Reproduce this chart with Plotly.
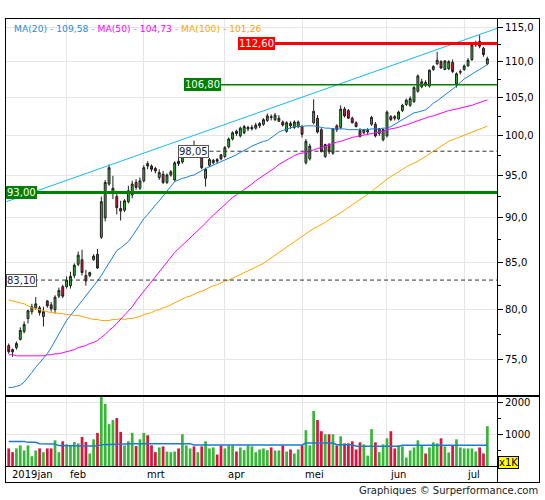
import numpy as np
import pandas as pd
import plotly.graph_objects as go

# trading days on the chart (Euronext calendar)
holidays = ["2019-04-19", "2019-04-22", "2019-05-01"]
days = pd.bdate_range("2019-01-11", "2019-07-09", freq="C", holidays=holidays)
dates = [d.strftime("%Y-%m-%d") for d in days]
day_pos = list(range(len(dates)))  # one slot per trading day

months_nl = ["jan", "feb", "mrt", "apr", "mei", "jun", "jul", "aug", "sep", "okt", "nov", "dec"]

opens = [76.4, 76.0, 76.2, 77.0, 77.8, 79.1, 79.8, 80.2, 80.2, 79.3,
         80.9, 80.5, 80.0, 81.4, 82.4, 82.4, 82.5, 83.6, 84.8, 85.3,
         83.6, 83.6, 85.3, 85.9, 87.8, 90.0, 94.0, 93.1, 92.5, 91.1,
         90.9, 91.9, 92.7, 94.2, 93.5, 94.4, 96.5, 96.2, 95.9, 94.8,
         95.2, 94.2, 95.1, 94.5, 96.8, 96.7, 97.4, 98.0, 98.5, 97.6,
         97.3, 94.7, 96.3, 96.6, 97.0, 97.6, 97.4, 98.6, 99.6, 100.6,
         100.0, 100.4, 100.9, 100.9, 101.0, 101.3, 101.5, 102.0, 102.5, 102.1,
         101.9, 101.8, 100.6, 101.6, 101.1, 101.2, 101.2, 96.6, 97.1, 101.7,
         102.3, 100.8, 97.4, 98.9, 97.8, 101.3, 101.1, 103.5, 103.3, 102.3,
         101.7, 100.7, 100.4, 100.5, 101.5, 101.5, 100.3, 99.5, 100.0, 102.5,
         102.5, 102.2, 103.3, 104.1, 104.0, 104.5, 105.9, 106.5, 107.1, 106.6,
         108.9, 109.7, 110.0, 108.9, 109.0, 109.9, 106.9, 108.5, 108.9, 109.4,
         110.3, 112.4, 112.9, 111.9, 109.7]
highs = [76.6, 76.1, 76.8, 78.2, 78.8, 80.0, 80.6, 81.3, 80.4, 80.3,
         81.0, 80.8, 81.5, 82.3, 82.6, 83.5, 84.0, 84.9, 86.2, 86.4,
         84.2, 84.0, 85.9, 86.5, 92.5, 94.5, 96.4, 95.0, 93.2, 92.0,
         92.2, 93.8, 94.4, 94.6, 94.8, 96.3, 96.8, 96.4, 96.1, 95.8,
         95.6, 95.3, 95.7, 96.8, 97.2, 97.7, 98.3, 98.7, 99.4, 98.4,
         97.8, 96.0, 97.2, 97.1, 97.2, 97.7, 98.7, 99.8, 100.6, 100.8,
         101.2, 101.4, 101.3, 101.4, 101.7, 101.8, 102.3, 102.9, 102.8, 103.0,
         102.7, 102.0, 101.9, 101.9, 102.0, 102.0, 101.4, 99.6, 99.0, 104.8,
         102.7, 101.0, 99.0, 99.1, 101.0, 101.5, 104.0, 103.8, 103.5, 102.5,
         101.9, 101.0, 100.9, 101.0, 102.6, 101.8, 101.0, 101.0, 103.3, 102.7,
         102.7, 103.3, 104.2, 104.9, 105.2, 106.6, 108.2, 107.6, 107.4, 108.9,
         109.5, 111.4, 110.2, 110.2, 110.2, 110.3, 108.5, 108.9, 109.6, 110.5,
         112.6, 113.0, 113.8, 112.1, 110.7]
lows = [75.6, 75.3, 76.0, 76.9, 77.6, 78.6, 79.5, 80.0, 79.4, 78.3,
        80.2, 79.8, 79.6, 81.2, 81.2, 82.2, 82.2, 83.3, 84.6, 83.6,
        82.5, 83.4, 85.2, 84.3, 87.6, 89.6, 93.8, 92.2, 90.4, 89.7,
        90.7, 91.7, 92.3, 93.3, 93.3, 94.2, 95.8, 95.5, 95.3, 94.5,
        94.0, 94.0, 94.9, 94.3, 96.2, 96.5, 97.2, 97.7, 97.8, 97.4,
        95.8, 93.7, 96.1, 96.4, 96.5, 96.9, 97.2, 98.4, 99.4, 100.0,
        99.8, 100.2, 100.6, 100.7, 100.8, 101.0, 101.3, 101.8, 102.0, 101.9,
        101.8, 101.2, 100.4, 100.9, 100.9, 101.0, 99.8, 96.4, 96.9, 101.5,
        100.3, 97.9, 97.2, 97.7, 97.6, 100.5, 100.9, 102.4, 102.2, 101.6,
        101.1, 99.8, 100.2, 100.1, 101.3, 99.8, 100.0, 99.3, 99.8, 101.9,
        102.0, 102.0, 103.1, 103.9, 103.8, 104.3, 105.7, 106.3, 106.5, 106.4,
        108.7, 109.5, 109.0, 108.8, 108.8, 108.4, 106.4, 108.2, 108.7, 109.3,
        110.1, 112.1, 111.9, 110.7, 109.5]
closes = [75.8, 75.8, 76.6, 77.9, 78.5, 79.9, 80.3, 80.6, 79.7, 79.8,
          80.4, 80.1, 81.3, 82.0, 81.4, 83.1, 83.5, 84.7, 85.8, 83.9,
          83.0, 83.9, 85.7, 84.4, 91.9, 94.2, 96.0, 93.5, 91.2, 90.8,
          92.0, 93.2, 94.0, 93.6, 94.4, 96.0, 96.2, 95.8, 95.6, 95.4,
          94.2, 95.1, 95.5, 96.6, 96.5, 97.5, 98.1, 98.4, 98.0, 98.2,
          96.0, 95.8, 97.0, 96.9, 96.8, 97.1, 98.5, 99.6, 100.4, 100.3,
          101.0, 101.2, 101.1, 101.1, 101.4, 101.6, 102.1, 102.6, 102.4, 102.7,
          102.3, 101.4, 101.7, 101.3, 101.8, 101.8, 100.2, 99.3, 98.7, 103.2,
          100.5, 98.0, 98.9, 98.0, 100.9, 100.8, 103.5, 102.6, 102.3, 101.7,
          101.2, 99.9, 100.8, 100.7, 102.4, 100.0, 100.9, 100.8, 103.1, 102.1,
          102.3, 103.1, 104.0, 104.7, 104.9, 106.4, 108.0, 107.2, 106.7, 108.8,
          109.3, 110.2, 109.1, 110.1, 110.0, 108.6, 108.3, 108.6, 109.4, 110.2,
          112.4, 112.6, 112.2, 111.0, 110.4]

# volume in thousands
volume = [573, 458, 573, 667, 510, 667, 333, 510, 573, 458,
          573, 573, 823, 458, 792, 698, 667, 771, 729, 927,
          771, 417, 854, 1052, 2240, 1948, 1323, 1448, 1510, 1083,
          667, 792, 1052, 646, 854, 1052, 979, 667, 458, 604,
          635, 479, 458, 479, 573, 1010, 667, 573, 635, 458,
          635, 792, 573, 604, 385, 667, 573, 667, 667, 479,
          604, 521, 667, 635, 458, 542, 573, 521, 604, 510,
          510, 667, 479, 542, 417, 542, 667, 1135, 667, 1729,
          1448, 1104, 1010, 1010, 1010, 667, 948, 729, 729, 792,
          542, 760, 698, 354, 1167, 760, 458, 698, 885, 1104,
          573, 667, 635, 292, 510, 604, 823, 667, 417, 604,
          760, 729, 885, 635, 448, 667, 854, 604, 573, 573,
          573, 479, 604, 417, 1260]
volume_ma = [790, 790, 790, 790, 790, 760, 760, 760, 720, 720,
             715, 715, 710, 660, 655, 650, 650, 648, 645, 645,
             645, 645, 645, 645, 690, 695, 700, 700, 720, 720,
             720, 720, 720, 720, 720, 720, 720, 720, 720, 720,
             720, 720, 720, 720, 720, 720, 720, 720, 680, 680,
             680, 680, 680, 680, 680, 680, 680, 680, 680, 680,
             680, 680, 680, 680, 680, 680, 680, 680, 680, 680,
             680, 680, 680, 680, 680, 680, 680, 740, 740, 740,
             740, 740, 740, 740, 740, 690, 690, 690, 690, 690,
             640, 640, 640, 640, 640, 640, 640, 640, 640, 640,
             640, 640, 670, 670, 670, 670, 670, 670, 670, 670,
             670, 670, 670, 670, 670, 670, 670, 670, 670, 670,
             670, 670, 670, 670, 670]

ma20 = [72.4, 72.4, 72.5, 72.6, 72.9, 73.3, 73.8, 74.3, 74.7, 75.1,
        75.6, 76.2, 76.9, 77.6, 78.3, 78.9, 79.4, 79.9, 80.4, 80.9,
        81.4, 81.9, 82.4, 83.0, 83.6, 84.3, 85.0, 85.7, 86.3, 86.6,
        86.9, 87.3, 87.9, 88.6, 89.3, 89.9, 90.4, 91.0, 91.5, 92.0,
        92.6, 93.2, 93.8, 94.3, 94.5, 94.7, 94.8, 95.0, 95.1, 95.4,
        95.7, 95.9, 96.1, 96.3, 96.5, 96.7, 96.9, 97.1, 97.4, 97.6,
        97.9, 98.1, 98.4, 98.7, 98.9, 99.2, 99.3, 99.4, 99.8, 100.2,
        100.5, 100.7, 100.9, 101.1, 101.2, 101.2, 101.2, 101.3, 101.3, 101.3,
        101.2, 101.1, 101.0, 101.0, 100.9, 100.9, 100.9, 100.9, 100.8, 100.8,
        100.8, 100.8, 100.8, 100.8, 100.9, 100.9, 100.9, 101.0, 101.0, 101.2,
        101.5, 101.8, 102.0, 102.3, 102.7, 103.0, 103.1, 103.3, 103.4, 103.8,
        104.3, 104.6, 105.0, 105.3, 105.7, 106.1, 106.6, 107.1, 107.6, 107.9,
        108.3, 108.6, 108.9, 109.2, 109.58]
ma50 = [75.5, 75.5, 75.4, 75.4, 75.4, 75.4, 75.4, 75.4, 75.4, 75.4,
        75.5, 75.5, 75.6, 75.6, 75.7, 75.8, 75.9, 76.0, 76.2, 76.3,
        76.4, 76.6, 76.7, 76.9, 77.2, 77.5, 77.9, 78.2, 78.6, 79.0,
        79.4, 79.9, 80.3, 80.9, 81.4, 81.9, 82.5, 83.0, 83.5, 84.0,
        84.5, 85.0, 85.6, 86.1, 86.5, 86.9, 87.4, 87.8, 88.2, 88.6,
        89.0, 89.4, 89.9, 90.3, 90.7, 91.2, 91.6, 92.0, 92.4, 92.7,
        93.0, 93.4, 93.7, 94.0, 94.4, 94.7, 95.0, 95.3, 95.7, 96.0,
        96.4, 96.7, 97.0, 97.3, 97.5, 97.7, 97.8, 97.9, 98.1, 98.2,
        98.4, 98.5, 98.7, 98.9, 99.0, 99.2, 99.3, 99.5, 99.6, 99.8,
        99.9, 100.0, 100.1, 100.2, 100.3, 100.4, 100.5, 100.6, 100.8, 100.9,
        101.0, 101.1, 101.3, 101.4, 101.6, 101.8, 101.9, 102.1, 102.3, 102.5,
        102.6, 102.8, 103.0, 103.1, 103.3, 103.4, 103.5, 103.6, 103.7, 103.9,
        104.0, 104.2, 104.4, 104.6, 104.73]
ma100 = [81.0, 80.9, 80.8, 80.7, 80.6, 80.4, 80.2, 80.1, 80.0, 79.9,
         79.8, 79.7, 79.7, 79.6, 79.6, 79.5, 79.5, 79.4, 79.4, 79.3,
         79.2, 79.1, 79.0, 79.0, 78.9, 78.9, 78.9, 79.0, 79.0, 79.1,
         79.0, 79.1, 79.1, 79.2, 79.3, 79.5, 79.6, 79.7, 79.9, 80.0,
         80.2, 80.3, 80.5, 80.7, 80.9, 81.1, 81.3, 81.4, 81.6, 81.8,
         81.9, 82.1, 82.3, 82.5, 82.6, 82.8, 83.0, 83.1, 83.3, 83.5,
         83.7, 83.9, 84.1, 84.3, 84.5, 84.7, 84.9, 85.2, 85.5, 85.8,
         86.1, 86.4, 86.7, 87.0, 87.3, 87.6, 87.9, 88.2, 88.5, 88.8,
         89.0, 89.3, 89.5, 89.8, 90.1, 90.3, 90.6, 90.9, 91.2, 91.5,
         91.8, 92.1, 92.4, 92.8, 93.1, 93.5, 93.8, 94.2, 94.6, 94.9,
         95.3, 95.6, 95.8, 96.1, 96.3, 96.6, 96.8, 97.1, 97.4, 97.7,
         98.0, 98.4, 98.7, 99.0, 99.3, 99.5, 99.7, 99.9, 100.1, 100.3,
         100.5, 100.7, 100.9, 101.1, 101.26]

# support / resistance levels and the trading-day slot where each line starts
levels = [112.60, 106.80, 98.05, 93.00, 83.10]
level_start = [69, 55, 52, None, None]

# trend channel anchors (trading-day slot, price)
trend_idx = [0, 124]
trend_val = [92.0, 114.3]

price_ticks = [75, 80, 85, 90, 95, 100, 105, 110, 115]
price_minor = [77.5, 82.5, 87.5, 92.5, 97.5, 102.5, 107.5, 112.5]
vol_ticks = [1000, 2000]

GREEN = "#35b835"
RED = "#dc143c"
FONT = "DejaVu Sans"

# pixel layout of the reference frame (plot area = outer frame 6..539 x 19..482)
W_AREA, H_AREA = 533, 463
x_dom = [0, 491 / W_AREA]
price_dom = [(482 - 395) / H_AREA, 1]
vol_dom = [(482 - 467) / H_AREA, (482 - 396) / H_AREA]
split = (482 - 395.5) / H_AREA
strip_top = (482 - 467) / H_AREA

x_range = [-0.7, 126.5]
y_range = [float(np.log10(71.7)), float(np.log10(116.19))]


def fmt(v, d=2):
    return f"{v:.{d}f}".replace(".", ",")


fig = go.Figure()

fig.add_trace(go.Candlestick(
    x=day_pos, open=opens, high=highs, low=lows, close=closes,
    increasing=dict(line=dict(color="#1e1e1e", width=1), fillcolor=GREEN),
    decreasing=dict(line=dict(color="#1e1e1e", width=1), fillcolor=RED),
    whiskerwidth=0, hoverinfo="skip", xaxis="x", yaxis="y"))

for vals, col in [(ma100, "#ffa500"), (ma50, "#ff00ff"), (ma20, "#1a7fd6")]:
    fig.add_trace(go.Scatter(x=day_pos, y=vals, mode="lines",
                             line=dict(color=col, width=1),
                             hoverinfo="skip", xaxis="x", yaxis="y"))

# trend channel line, extended to both plot edges
lt = np.log10(trend_val)
slope = (lt[1] - lt[0]) / (trend_idx[1] - trend_idx[0])
tx = list(x_range)
ty = [float(10 ** (lt[0] + slope * (x - trend_idx[0]))) for x in tx]
fig.add_trace(go.Scatter(x=tx, y=ty, mode="lines", line=dict(color="#16b8f0", width=1),
                         hoverinfo="skip", xaxis="x", yaxis="y"))

styles = [
    dict(line=dict(color="#ff0000", width=3), bg="#ff0000", fc="white", bc="#ff0000"),
    dict(line=dict(color="#008000", width=1.5), bg="#008000", fc="white", bc="#008000"),
    dict(line=dict(color="#333333", width=1, dash="4px,3px"), bg="white", fc="#222244", bc="#555555"),
    dict(line=dict(color="#008000", width=3), bg="#008000", fc="white", bc="#008000"),
    dict(line=dict(color="#333333", width=1, dash="4px,3px"), bg="white", fc="#222244", bc="#555555"),
]
for v, s, st in zip(levels, level_start, styles):
    x0 = x_range[0] if s is None else s
    fig.add_trace(go.Scatter(x=[x0, x_range[1]], y=[v, v], mode="lines", line=st["line"],
                             hoverinfo="skip", xaxis="x", yaxis="y"))
    lab = dict(yref="y", y=float(np.log10(v)), text=fmt(v), showarrow=False, bgcolor=st["bg"],
               bordercolor=st["bc"], borderwidth=1, borderpad=0,
               font=dict(family=FONT, size=10, color=st["fc"]))
    if s is None:
        lab.update(xref="paper", x=0, xanchor="left")
    else:
        lab.update(xref="x", x=s, xanchor="right")
    fig.add_annotation(**lab)

vol_colors = [GREEN if c >= o else RED for o, c in zip(opens, closes)]
fig.add_trace(go.Bar(x=day_pos, y=volume, marker=dict(color=vol_colors, line=dict(width=0)),
                     hoverinfo="skip", xaxis="x2", yaxis="y2"))
fig.add_trace(go.Scatter(x=day_pos, y=volume_ma, mode="lines",
                         line=dict(color="#1f78d1", width=1.5),
                         hoverinfo="skip", xaxis="x2", yaxis="y2"))

# empty traces that carry the frame boxes
for k in (3, 4, 5):
    fig.add_trace(go.Scatter(x=[0.5], y=[0.5], mode="none", hoverinfo="skip",
                             xaxis=f"x{k}", yaxis=f"y{k}"))

# month gridlines and labels
month_idx = [i for i in range(1, len(dates)) if dates[i][5:7] != dates[i - 1][5:7]]

label_font = dict(family=FONT, size=10, color="black")
lab_y = (482 - 474.5) / H_AREA
fig.add_annotation(xref="x2", x=day_pos[0], xanchor="left", xshift=1, yref="paper", y=lab_y,
                   yanchor="middle", showarrow=False, font=label_font,
                   text=dates[0][:4] + months_nl[int(dates[0][5:7]) - 1])
for i in month_idx:
    fig.add_annotation(xref="x2", x=day_pos[i], xanchor="left", xshift=1, yref="paper", y=lab_y,
                       yanchor="middle", showarrow=False, font=label_font,
                       text=months_nl[int(dates[i][5:7]) - 1])

# moving average legend
sep = '<span style="color:#999999"> - </span>'
legend_txt = (f'<span style="color:#2a8ae8">MA(20)</span>{sep}<span style="color:#2a8ae8">{fmt(ma20[-1])}</span>{sep}'
              f'<span style="color:#ff00ff">MA(50)</span>{sep}<span style="color:#ff00ff">{fmt(ma50[-1])}</span>{sep}'
              f'<span style="color:#ffa500">MA(100)</span>{sep}<span style="color:#ffa500">{fmt(ma100[-1])}</span>')
fig.add_annotation(xref="paper", x=6 / W_AREA, xanchor="left", yref="paper", y=1 - 2 / H_AREA,
                   yanchor="top", text=legend_txt, showarrow=False,
                   font=dict(family=FONT, size=9.2))

fig.add_annotation(xref="paper", x=(498 - 6) / W_AREA, xanchor="left", yref="paper",
                   y=(482 - 469) / H_AREA, yanchor="bottom",
                   text="x1K", showarrow=False, bgcolor="#ffff00", bordercolor="black",
                   borderwidth=1, borderpad=0, font=label_font)
fig.add_annotation(xref="paper", x=(540 - 6) / W_AREA, xanchor="right", yref="paper",
                   y=(482 - 490) / H_AREA, yanchor="middle",
                   text="Graphiques © Surperformance.com", showarrow=False,
                   font=dict(family=FONT, size=10, color="#222222"))

grid_c = "#e6e6e6"
tick_font = dict(family=FONT, size=10, color="black")
frame_axis = dict(range=[0, 1], showticklabels=False, ticks="", showgrid=False, zeroline=False,
                  showline=True, mirror=True, linecolor="black", linewidth=1, fixedrange=True)

fig.update_layout(
    width=545, height=500, autosize=False,
    margin=dict(l=6, r=6, t=19, b=18),
    paper_bgcolor="white", plot_bgcolor="rgba(0,0,0,0)",
    showlegend=False, bargap=0.3,
    xaxis=dict(domain=x_dom, range=x_range, anchor="y", tickvals=month_idx,
               showticklabels=False, ticks="", showgrid=True, gridcolor=grid_c,
               zeroline=False, showline=False, rangeslider=dict(visible=False)),
    yaxis=dict(type="log", domain=price_dom, range=y_range, side="right", anchor="x",
               tickvals=price_ticks, ticktext=[fmt(v, 1) for v in price_ticks],
               ticks="outside", ticklen=5, tickcolor="black", tickfont=tick_font,
               minor=dict(tickvals=price_minor, ticks="outside", ticklen=3,
                          tickcolor="black", showgrid=False),
               showgrid=True, gridcolor=grid_c, zeroline=False,
               showline=True, linecolor="black", linewidth=1),
    xaxis2=dict(domain=x_dom, range=x_range, anchor="y2", tickvals=month_idx,
                showticklabels=False, ticks="", showgrid=True, gridcolor=grid_c,
                zeroline=False, showline=False),
    yaxis2=dict(domain=vol_dom, range=[0, 2190], side="right", anchor="x2",
                tickvals=vol_ticks, ticktext=[str(v) for v in vol_ticks],
                ticks="outside", ticklen=5, tickcolor="black", tickfont=tick_font,
                minor=dict(dtick=500, ticks="outside", ticklen=3, tickcolor="black", showgrid=False),
                showgrid=True, gridcolor=grid_c, zeroline=False,
                showline=True, linecolor="black", linewidth=1),
    # frame: upper box, lower box, and the date strip under the volume panel
    xaxis3=dict(frame_axis, domain=[0, 1], anchor="y3"),
    yaxis3=dict(frame_axis, domain=[split, 1], anchor="x3"),
    xaxis4=dict(frame_axis, domain=[0, 1], anchor="y4"),
    yaxis4=dict(frame_axis, domain=[0, split], anchor="x4"),
    xaxis5=dict(frame_axis, domain=x_dom, anchor="y5"),
    yaxis5=dict(frame_axis, domain=[0, strip_top], anchor="x5"),
)

# drop the page's default body margin so the figure sits at the top-left corner
fig.write_html("out.html", config={"displayModeBar": False},
               post_script="document.body.style.margin='0';")
